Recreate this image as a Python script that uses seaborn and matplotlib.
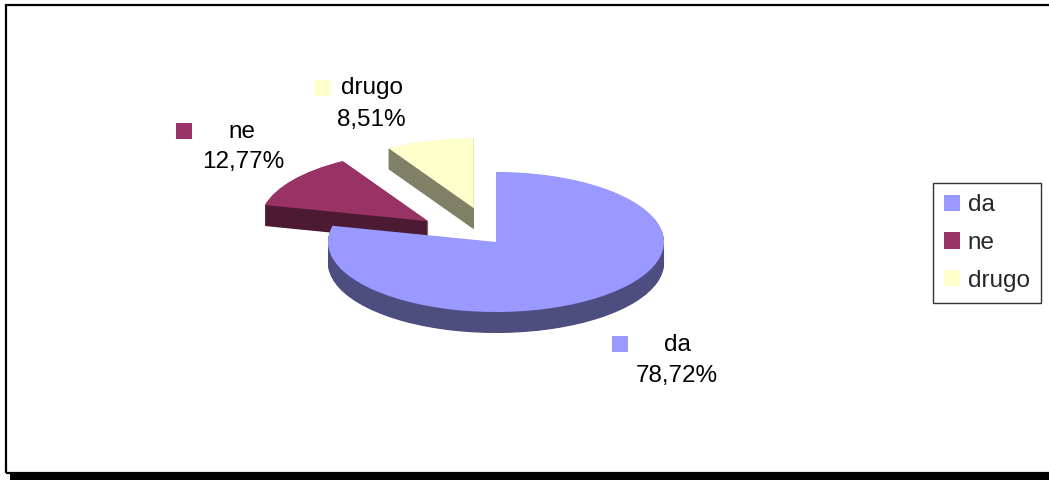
import matplotlib
matplotlib.use("Agg")
import matplotlib.pyplot as plt
from matplotlib.patches import Rectangle
import seaborn as sns

# Survey answers and their shares (percent)
categories = ["da", "ne", "drugo"]
shares = [78.72, 12.77, 8.51]
top_colors = ["#9999FF", "#993366", "#FFFFCC"]
side_colors = ["#4D4D80", "#4D1A33", "#808066"]
explode = [0.0, 0.5, 0.5]

sns.set_theme(style="white")
plt.rcParams["font.family"] = ["Liberation Sans", "DejaVu Sans"]

W, H = 1049, 480
fig = plt.figure(figsize=(W / 100, H / 100), dpi=100)
fig.patch.set_facecolor("white")


def fx(x):
    return x / W


def fy(y):
    return 1 - y / H


# Pie axes: stretched vertically so the circle reads as a tilted disc
ax = fig.add_axes([fx(160), fy(382), 672 / W, 280 / H])

depth = 0.30
n_layers = 36
for k in range(n_layers, 0, -1):
    ax.pie(shares, colors=side_colors, explode=explode, startangle=90,
           counterclock=False, radius=1.0, center=(0, -depth * k / n_layers),
           wedgeprops=dict(linewidth=0, antialiased=True))
wedges, _ = ax.pie(shares, colors=top_colors, explode=explode, startangle=90,
                   counterclock=False, radius=1.0, center=(0, 0),
                   wedgeprops=dict(linewidth=0, antialiased=True))
ax.set_aspect("auto")
ax.set_xlim(-2, 2)
ax.set_ylim(-2, 2)
ax.axis("off")

# Data labels: legend key, category name and percentage
fs = 17.5
label_pos = {
    "da": dict(key=(620, 344), name=(677, 345), pct=(677, 376)),
    "ne": dict(key=(184, 131), name=(242, 132), pct=(243, 162)),
    "drugo": dict(key=(322, 88), name=(372, 88), pct=(371, 120)),
}
for cat, val, col in zip(categories, shares, top_colors):
    p = label_pos[cat]
    kx, ky = p["key"]
    fig.add_artist(Rectangle((fx(kx - 8), fy(ky + 8)), 16 / W, 16 / H,
                             transform=fig.transFigure, facecolor=col,
                             edgecolor="none"))
    fig.text(fx(p["name"][0]), fy(p["name"][1]), cat, ha="center",
             va="center", fontsize=fs, color="black")
    pct = f"{val:.2f}".replace(".", ",") + "%"
    fig.text(fx(p["pct"][0]), fy(p["pct"][1]), pct, ha="center",
             va="center", fontsize=fs, color="black")

# Legend box on the right
leg = fig.legend(wedges, categories, loc="upper left",
                 bbox_to_anchor=(fx(933), fy(183)),
                 bbox_transform=fig.transFigure, borderaxespad=0,
                 fontsize=fs, frameon=True, fancybox=False, shadow=False,
                 handlelength=0.65, handleheight=0.65, handletextpad=0.3,
                 labelspacing=0.64, borderpad=0.47)
leg.get_frame().set_edgecolor("black")
leg.get_frame().set_linewidth(1.0)

# Chart frame with a drop shadow along the bottom
fig.add_artist(Rectangle((fx(10), fy(480)), (W - 10) / W, 6 / H,
                         transform=fig.transFigure, facecolor="black",
                         edgecolor="none"))
fig.add_artist(Rectangle((fx(6), fy(473)), (W + 10) / W, 468 / H,
                         transform=fig.transFigure, facecolor="none",
                         edgecolor="black", linewidth=1.6))

fig.savefig("out.png", dpi=100)
